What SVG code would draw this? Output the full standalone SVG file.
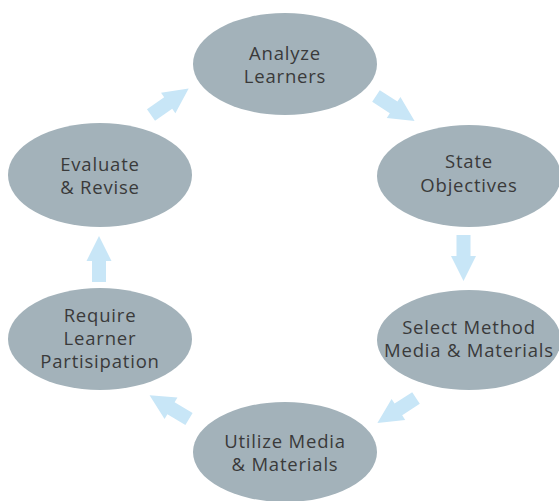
<svg xmlns="http://www.w3.org/2000/svg" width="559" height="501" viewBox="0 0 559 501">
<defs>
<style>
.node ellipse{fill:#a3b2ba;}
.node text{font-family:"Open Sans","Noto Sans","Liberation Sans",sans-serif;font-size:18.5px;letter-spacing:0.8px;fill:#3a3a3a;text-anchor:middle;}
.arrow{fill:#c8e6f7;}
</style>
<path id="arr" d="M0,-7 H21 V-12.5 L46,0 L21,12.5 V7 H0 Z"/>
</defs>
<rect width="559" height="501" fill="#ffffff"/>
<g id="connectors">
<use href="#arr" class="arrow" transform="translate(151,115) rotate(-35)"/>
<use href="#arr" class="arrow" transform="translate(376,96) rotate(33)"/>
<use href="#arr" class="arrow" transform="translate(463.5,235) rotate(90)"/>
<use href="#arr" class="arrow" transform="translate(416,398) rotate(147)"/>
<use href="#arr" class="arrow" transform="translate(189,419) rotate(211)"/>
<use href="#arr" class="arrow" transform="translate(99,282) rotate(-90)"/>
</g>
<g id="analyze" class="node">
<ellipse cx="285" cy="64" rx="92" ry="51"/>
<text x="285" y="60">Analyze</text>
<text x="285" y="83">Learners</text>
</g>
<g id="state" class="node">
<ellipse cx="469" cy="176" rx="92" ry="51"/>
<text x="469" y="168">State</text>
<text x="469" y="192">Objectives</text>
</g>
<g id="select" class="node">
<ellipse cx="469" cy="340" rx="92" ry="50"/>
<text x="469" y="334">Select Method</text>
<text x="469" y="357">Media &amp; Materials</text>
</g>
<g id="utilize" class="node">
<ellipse cx="285" cy="452" rx="92" ry="50"/>
<text x="285" y="448">Utilize Media</text>
<text x="285" y="471">&amp; Materials</text>
</g>
<g id="require" class="node">
<ellipse cx="100" cy="339" rx="92" ry="51"/>
<text x="100" y="322">Require</text>
<text x="100" y="345">Learner</text>
<text x="100" y="368">Partisipation</text>
</g>
<g id="evaluate" class="node">
<ellipse cx="100" cy="175" rx="92" ry="52"/>
<text x="100" y="171">Evaluate</text>
<text x="100" y="194">&amp; Revise</text>
</g>
</svg>
